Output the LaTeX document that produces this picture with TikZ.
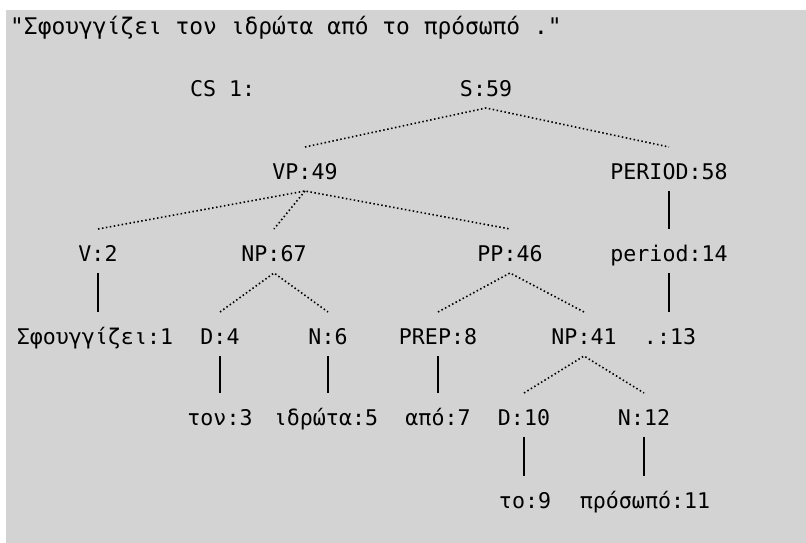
\documentclass[tikz,border=0pt]{standalone}
\usepackage{fontspec}
\newfontfamily\lblfont{DejaVu Sans Mono}
\definecolor{bggray}{RGB}{211,211,211}
\begin{document}
\begin{tikzpicture}[x=1pt,y=1pt,
  lbl/.style={font={\lblfont\fontsize{21.6}{24}\selectfont}, inner sep=0pt, outer sep=0pt,
              text height=33pt, text depth=11pt, anchor=base},
  titlelbl/.style={font={\lblfont\fontsize{22.9}{26}\selectfont}, inner sep=0pt, anchor=base west},
  dotsline/.style={line width=1.6pt, dash pattern=on 1.5pt off 2.5pt},
  solidline/.style={line width=1.5pt}]
\useasboundingbox (0,0) rectangle (806,543);
\fill[white] (0,0) rectangle (806,543);
\fill[bggray] (6,0) rectangle (806,533);

\node[titlelbl] (title) at (10,508) {"Σφουγγίζει τον ιδρώτα από το πρόσωπό ."};
\node[lbl, anchor=base west] (cs) at (190,446) {CS 1:};

% row 0
\node[lbl] (s) at (486,446) {S:59};
% row 1
\node[lbl] (vp) at (305,363) {VP:49};
\node[lbl] (per) at (669,363) {PERIOD:58};
% row 2
\node[lbl] (v) at (98,281) {V:2};
\node[lbl] (np1) at (274,281) {NP:67};
\node[lbl] (pp) at (510,281) {PP:46};
\node[lbl] (period) at (669,281) {period:14};
% row 3
\node[lbl] (w1) at (95,198) {Σφουγγίζει:1};
\node[lbl] (d4) at (220,198) {D:4};
\node[lbl] (n6) at (328,198) {N:6};
\node[lbl] (prep) at (438,198) {PREP:8};
\node[lbl] (np2) at (584,198) {NP:41};
\node[lbl] (w13) at (670,198) {.:13};
% row 4
\node[lbl] (w3) at (220,117) {τον:3};
\node[lbl] (w5) at (326,117) {ιδρώτα:5};
\node[lbl] (w7) at (438,117) {από:7};
\node[lbl] (d10) at (524,117) {D:10};
\node[lbl] (n12) at (644,117) {N:12};
% row 5
\node[lbl] (w9) at (525,34) {το:9};
\node[lbl] (w11) at (645,34) {πρόσωπό:11};

% dotted connectors
\draw[dotsline] (vp.north) -- (s.south) -- (per.north);
\draw[dotsline] (v.north) -- (vp.south) -- (pp.north);
\draw[dotsline] (vp.south) -- (np1.north);
\draw[dotsline] (d4.north) -- (np1.south) -- (n6.north);
\draw[dotsline] (prep.north) -- (pp.south) -- (np2.north);
\draw[dotsline] (d10.north) -- (np2.south) -- (n12.north);

% solid connectors (vertical)
\draw[solidline] (per.south) -- (per.south |- period.north);
\draw[solidline] (period.south) -- (period.south |- w13.north);
\draw[solidline] (v.south) -- (v.south |- w1.north);
\draw[solidline] (d4.south) -- (d4.south |- w3.north);
\draw[solidline] (n6.south) -- (n6.south |- w5.north);
\draw[solidline] (prep.south) -- (prep.south |- w7.north);
\draw[solidline] (d10.south) -- (d10.south |- w9.north);
\draw[solidline] (n12.south) -- (n12.south |- w11.north);
\end{tikzpicture}
\end{document}
